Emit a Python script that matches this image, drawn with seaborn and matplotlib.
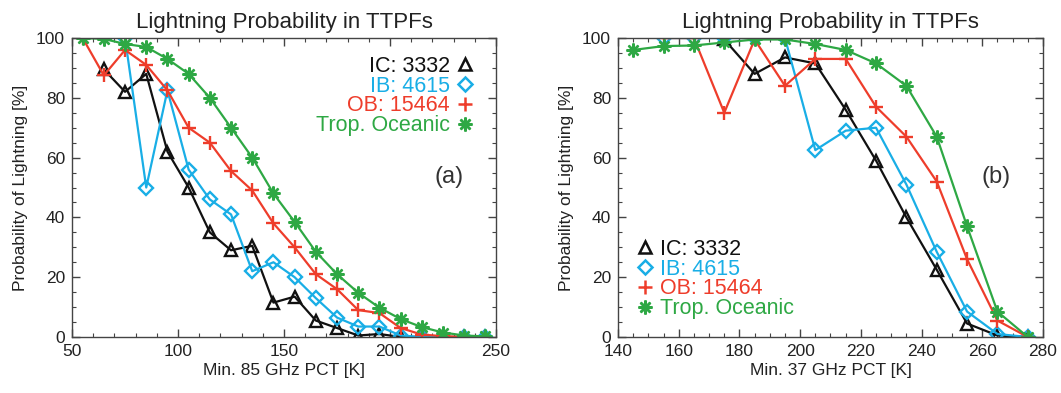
import numpy as np
import pandas as pd
import matplotlib
matplotlib.use("Agg")
import matplotlib.pyplot as plt
from matplotlib.lines import Line2D
from matplotlib.ticker import MultipleLocator
import seaborn as sns

nan = np.nan

# ---------------- data ----------------
title = "Lightning Probability in TTPFs"
ylabel = "Probability of Lightning [%]"
labels = ["IC: 3332", "IB: 4615", "OB: 15464", "Trop. Oceanic"]

# panel (a): min 85 GHz PCT
x_a = [55, 65, 75, 85, 95, 105, 115, 125, 135, 145,
       155, 165, 175, 185, 195, 205, 215, 225, 235, 245]
a_ic = [nan, 89.5, 82, 88, 62, 50, 35, 29, 30.5, 11.5,
        13.5, 5.5, 3, 0.5, 1, 0, 0, 0, 0, 0]
a_ib = [nan, nan, 100, 50, 82.5, 56, 46, 41, 22, 25,
        20, 13, 6.5, 3.5, 3.5, 0.5, 0, 0, 0, 0]
a_ob = [100, 87.5, 96, 91, 82.5, 70, 65, 55.5, 49, 38,
        30, 21, 16, 9, 8, 3, 0.8, 0.3, 0, 0]
a_tr = [100, 99.7, 98, 97, 93, 88, 80, 70, 60, 48,
        38.5, 28.5, 21, 14.8, 9.8, 6, 3.3, 1.5, 0.5, 0.2]

# panel (b): min 37 GHz PCT
x_b = [145, 155, 165, 175, 185, 195, 205, 215, 225, 235, 245, 255, 265, 275]
b_ic = [nan, nan, nan, 99.5, 88, 93.5, 91.5, 76, 59, 40, 22.5, 4.5, 0.5, 0]
b_ib = [nan, 100, 100, 100, 100, 100, 62.5, 69, 70, 51, 28.5, 8.5, 1, 0]
b_ob = [nan, 100, 100, 75, 99.5, 84, 93, 93, 77, 67, 52, 26, 5.5, 0]
b_tr = [96, 97.3, 97.5, 98.5, 99.5, 99.5, 98, 96, 91.5, 84, 67, 37, 8.5, 0]

# ---------------- style ----------------
colors = ["#111111", "#19aee6", "#ee3d2b", "#2ea844"]
markers = ["^", "D", "+", (8, 2, 0)]
msizes = [8.5, 7, 9.5, 10]

sns.set_style("ticks")
plt.rcParams["font.family"] = ["Liberation Sans", "DejaVu Sans"]

fig = plt.figure(figsize=(10.61, 3.93), dpi=100)
ax_a = fig.add_axes([0.0679, 0.1425, 0.3996, 0.7608])
ax_b = fig.add_axes([0.5825, 0.1425, 0.4005, 0.7608])


def draw(ax, x, series, xlim, xmajor, xminor, xlabel, tag):
    for s, c, m, ms in zip(series, colors, markers, msizes):
        df = pd.DataFrame({"x": x, "y": s}).dropna()
        sns.lineplot(data=df, x="x", y="y", ax=ax, color=c, linewidth=1.6,
                     marker=m, markersize=ms, markerfacecolor="none",
                     markeredgecolor=c, markeredgewidth=1.7,
                     estimator=None, sort=False)
    ax.set_xlim(*xlim)
    ax.set_ylim(0, 100)
    ax.xaxis.set_major_locator(MultipleLocator(xmajor))
    ax.xaxis.set_minor_locator(MultipleLocator(xminor))
    ax.yaxis.set_major_locator(MultipleLocator(20))
    ax.yaxis.set_minor_locator(MultipleLocator(5))
    ax.tick_params(which="both", direction="in", top=True, right=True,
                   colors="#444444", labelcolor="#222222")
    ax.tick_params(which="major", length=6, width=1, labelsize=12.5, pad=5)
    ax.tick_params(which="minor", length=3, width=0.8)
    for sp in ax.spines.values():
        sp.set_color("#444444")
        sp.set_linewidth(1)
    ax.set_xlabel(xlabel, fontsize=12.5, color="#222222", labelpad=3)
    ax.set_ylabel(ylabel, fontsize=12.5, color="#222222", labelpad=6)
    ax.set_title(title, fontsize=16, color="#222222", pad=7)
    ax.text(0.89, 0.535, tag, transform=ax.transAxes, fontsize=17,
            color="#333333", ha="center", va="center")


draw(ax_a, x_a, [a_ic, a_ib, a_ob, a_tr], (50, 250), 50, 10,
     "Min. 85 GHz PCT [K]", "(a)")
draw(ax_b, x_b, [b_ic, b_ib, b_ob, b_tr], (140, 280), 20, 5,
     "Min. 37 GHz PCT [K]", "(b)")

handles = [Line2D([], [], linestyle="none", marker=m, markersize=ms,
                  markerfacecolor="none", markeredgecolor=c, markeredgewidth=1.8)
           for c, m, ms in zip(colors, markers, msizes)]

leg_a = ax_a.legend(handles, labels, loc="upper right",
                    bbox_to_anchor=(0.945, 0.94), markerfirst=False,
                    frameon=False, fontsize=15.5, labelcolor=colors,
                    handlelength=0.7, handletextpad=0.35, labelspacing=-0.06,
                    borderpad=0, borderaxespad=0)
leg_b = ax_b.legend(handles, labels, loc="lower left",
                    bbox_to_anchor=(0.045, 0.06), markerfirst=True,
                    frameon=False, fontsize=15.5, labelcolor=colors,
                    handlelength=0.7, handletextpad=0.35, labelspacing=-0.06,
                    borderpad=0, borderaxespad=0)

fig.savefig("out.png", dpi=100)
